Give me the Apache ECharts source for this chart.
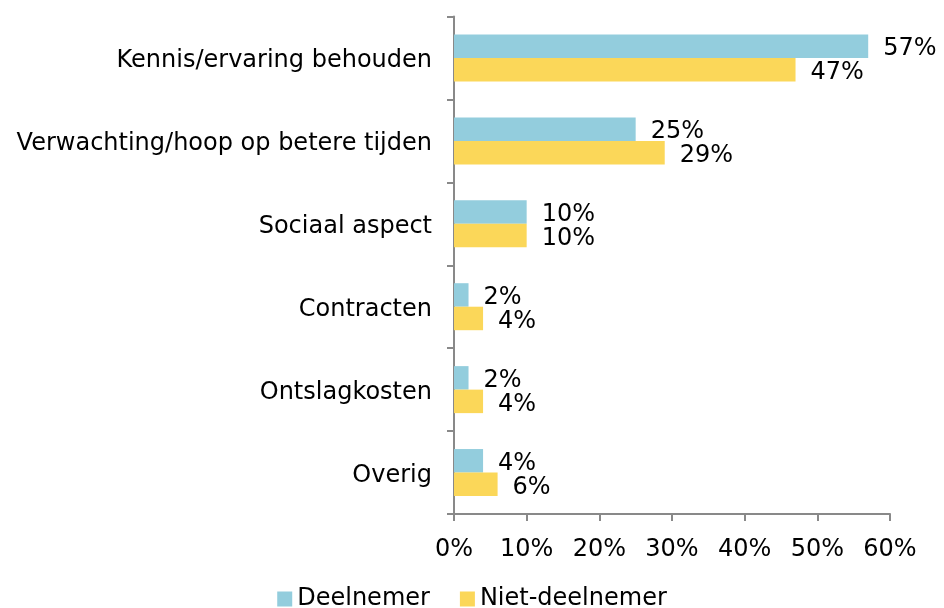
<!DOCTYPE html>
<html><head><meta charset="utf-8">
<script src="https://cdn.jsdelivr.net/npm/echarts@6/dist/echarts.min.js"></script>
<style>html,body{margin:0;padding:0;background:#fff}#c{width:944px;height:608px}</style>
</head><body><div id="c"></div>
<script>
var categories = ["Kennis/ervaring behouden","Verwachting/hoop op betere tijden","Sociaal aspect","Contracten","Ontslagkosten","Overig"];
var deelnemer = [57,25,10,2,2,4];
var nietDeelnemer = [47,29,10,4,4,6];
var xTicks = [0,10,20,30,40,50,60];
var seriesNames = ["Deelnemer","Niet-deelnemer"];
var F = "DejaVu Sans, Verdana, sans-serif";
var FS = 24;
var chart = echarts.init(document.getElementById('c'), null, {renderer:'canvas'});
var axisColor = '#898989';
chart.setOption({
  animation:false,
  textStyle:{fontFamily:F},
  grid:{left:454,right:54,top:16.5,bottom:94,containLabel:false},
  legend:{
    data:seriesNames, bottom:-8, left:'center', itemWidth:15, itemHeight:15, itemGap:30,
    icon:'rect', textStyle:{fontFamily:F,fontSize:24,color:'#000'}
  },
  xAxis:{
    type:'value', min:xTicks[0], max:xTicks[xTicks.length-1], interval:10,
    axisLine:{show:true,lineStyle:{color:axisColor,width:2}},
    axisTick:{show:true,length:7,lineStyle:{color:axisColor,width:2}},
    splitLine:{show:false},
    axisLabel:{formatter:function(v){return v+'%';},fontFamily:F,fontSize:FS,color:'#000',margin:24}
  },
  yAxis:{
    type:'category', data:categories, inverse:true,
    axisLine:{show:true,lineStyle:{color:axisColor,width:2}},
    axisTick:{show:true,length:7,lineStyle:{color:axisColor,width:2}},
    axisLabel:{fontFamily:F,fontSize:FS,color:'#000',margin:22,
      formatter:function(v){return '{a|'+v+'}';},
      rich:{a:{fontFamily:F,fontSize:FS,color:'#000',padding:[6,0,0,0]}}}
  },
  series:[
    {name:seriesNames[0],type:'bar',data:deelnemer,barWidth:23.5,barGap:'0%',
     itemStyle:{color:'#93CDDD'},
     label:{show:true,position:'right',distance:15,offset:[0,3],formatter:'{c}%',fontFamily:F,fontSize:FS,color:'#000'}},
    {name:seriesNames[1],type:'bar',data:nietDeelnemer,barWidth:23.5,barGap:'0%',
     itemStyle:{color:'#FBD759'},
     label:{show:true,position:'right',distance:15,offset:[0,3],formatter:'{c}%',fontFamily:F,fontSize:FS,color:'#000'}}
  ]
});
</script></body></html>
